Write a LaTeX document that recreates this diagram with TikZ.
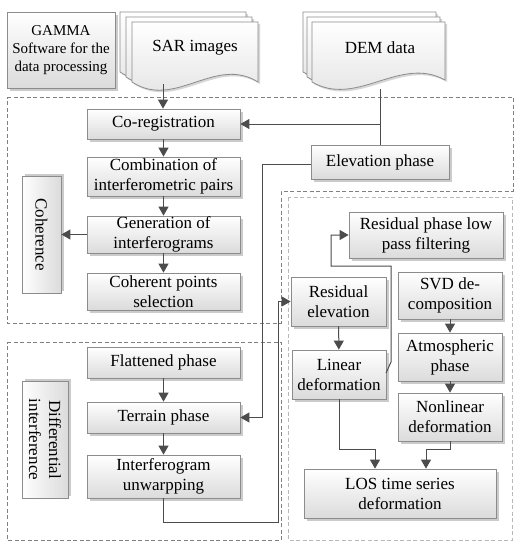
\documentclass[tikz,border=0pt]{standalone}
\usepackage{fontspec}
\setmainfont{Liberation Serif}
\usetikzlibrary{arrows.meta,shadows}
\tikzset{
  box/.style={draw=black!45, line width=0.8pt, top color=white, bottom color=black!14,
    drop shadow={shadow xshift=2.5pt, shadow yshift=-2.5pt, fill=black!45, opacity=0.45},
    font=\fontsize{17}{20}\selectfont, align=center, inner sep=0pt},
  vbox/.style={draw=black!45, line width=0.8pt, left color=white, right color=black!14,
    drop shadow={shadow xshift=2.5pt, shadow yshift=2.5pt, fill=black!45, opacity=0.45},
    font=\fontsize{17}{20}\selectfont, align=center, inner sep=0pt, rotate=-90},
  docpage/.style={draw=black!45, line width=0.8pt, top color=white, bottom color=black!12,
    drop shadow={shadow xshift=2pt, shadow yshift=-2pt, fill=black!40, opacity=0.4}},
  conn/.style={draw=black!70, line width=1pt},
  arr/.style={conn, -{Triangle[length=9pt,width=10pt]}},
  frameA/.style={draw=black!50, line width=0.7pt, dash pattern=on 4pt off 2.5pt},
  frameB/.style={draw=black!28, line width=0.7pt, dash pattern=on 4pt off 2.5pt},
  txt/.style={font=\fontsize{17}{20}\selectfont, align=center, inner sep=0pt}
}
\begin{document}
\begin{tikzpicture}[x=1pt,y=-1pt]
\useasboundingbox (0,0) rectangle (520,550);
\fill[white] (0,0) rectangle (520,550);

% dashed frames
\draw[frameA] (7,97) -- (513,97) -- (513,191) -- (281,191) -- (281,323) -- (7,323) -- cycle;
\draw[frameA] (7,342) -- (281,342) -- (281,540) -- (7,540) -- cycle;
\draw[frameB] (288,197) rectangle (512,540);

% GAMMA box
\node[box, minimum width=108, minimum height=76, font=\fontsize{15}{18}\selectfont] (gamma) at (61,50)
  {GAMMA\\Software for the\\data processing};

% SAR images document stack
\foreach \dx/\dy in {-12/-10,-6/-5,0/0}{
  \draw[docpage, shift={(\dx,\dy)}] (132,22) -- (258,22) -- (258,82)
    .. controls (215,55) and (175,110) .. (132,82) -- cycle;
}
\node[txt] (sar) at (195,48) {SAR images};
\coordinate (sarb) at (163,84);

% DEM data document stack
\foreach \dx/\dy in {-9/-10,-5/-5,0/0}{
  \draw[docpage, shift={(\dx,\dy)}] (312,22) -- (445,22) -- (445,80)
    .. controls (400,55) and (357,108) .. (312,82) -- cycle;
}
\node[txt] (dem) at (380,48) {DEM data};
\coordinate (demb) at (380,89);

% left column nodes
\node[box, minimum width=153, minimum height=30] (coreg) at (163.5,124) {Co-registration};
\node[box, minimum width=153, minimum height=39] (comb) at (163.5,176.5) {Combination of\\interferometric pairs};
\node[box, minimum width=153, minimum height=37] (gen) at (163.5,234.5) {Generation of\\interferograms};
\node[box, minimum width=153, minimum height=37] (cohp) at (163.5,291.5) {Coherent points\\selection};
\node[vbox, minimum width=117, minimum height=39] (cohere) at (41.5,234.5) {Coherence};
\node[box, minimum width=138, minimum height=34] (elev) at (380,162) {Elevation phase};

\node[box, minimum width=153, minimum height=31] (flat) at (163.5,362.5) {Flattened phase};
\node[box, minimum width=153, minimum height=31] (terr) at (163.5,417.5) {Terrain phase};
\node[box, minimum width=153, minimum height=43] (unw) at (163.5,476.5) {Interferogram\\unwarpping};
\node[vbox, minimum width=117, minimum height=46] (diff) at (45,439.5) {Differential\\interference};

% right part nodes
\node[box, minimum width=154, minimum height=46] (rpl) at (426,235) {Residual phase low\\pass filtering};
\node[box, minimum width=95, minimum height=49] (resel) at (338.5,301.5) {Residual\\elevation};
\node[box, minimum width=104, minimum height=47] (svd) at (450,295.5) {SVD de-\\composition};
\node[box, minimum width=94, minimum height=49] (lin) at (339,374.5) {Linear\\deformation};
\node[box, minimum width=104, minimum height=48] (atm) at (450,357) {Atmospheric\\phase};
\node[box, minimum width=104, minimum height=48] (nonlin) at (450,417) {Nonlinear\\deformation};
\node[box, minimum width=192, minimum height=49] (los) at (400,493.5) {LOS time series\\deformation};

% connectors
\draw[arr] (sarb) -- (sarb |- coreg.north);
\draw[conn] (demb) -- (elev.north);
\draw[arr] (demb |- coreg.east) -- (coreg.east);
\draw[arr] (coreg) -- (comb);
\draw[arr] (comb) -- (gen);
\draw[arr] (gen) -- (cohp);
\draw[arr] (gen.west) -- (gen.west -| cohere.north);

\coordinate (ex) at (262,164);
\draw[arr] (elev.west |- ex) -- (ex) -- (ex |- terr.east) -- (terr.east);
\draw[arr] (flat) -- (terr);
\draw[arr] (terr) -- (unw);

\coordinate (ux) at (278,522);
\draw[arr] (unw.south) |- (ux) |- (resel.west);

\draw[arr] (resel) -- (lin);
\coordinate (lk) at (386,373);
\coordinate (lk2) at (391,362);
\coordinate (lk3) at (391,266);
\coordinate (lk4) at (331,266);
\draw[arr] (lk) -- (lk2) -- (lk3) -- (lk4) |- (rpl.west);

\draw[arr] (svd) -- (atm);
\draw[arr] (atm) -- (nonlin);

\coordinate (j1) at (375,449);
\coordinate (j2) at (426,449);
\draw[arr] (lin.south) |- (j1) -- (j1 |- los.north);
\draw[arr] (nonlin.south) |- (j2) -- (j2 |- los.north);
\end{tikzpicture}
\end{document}
